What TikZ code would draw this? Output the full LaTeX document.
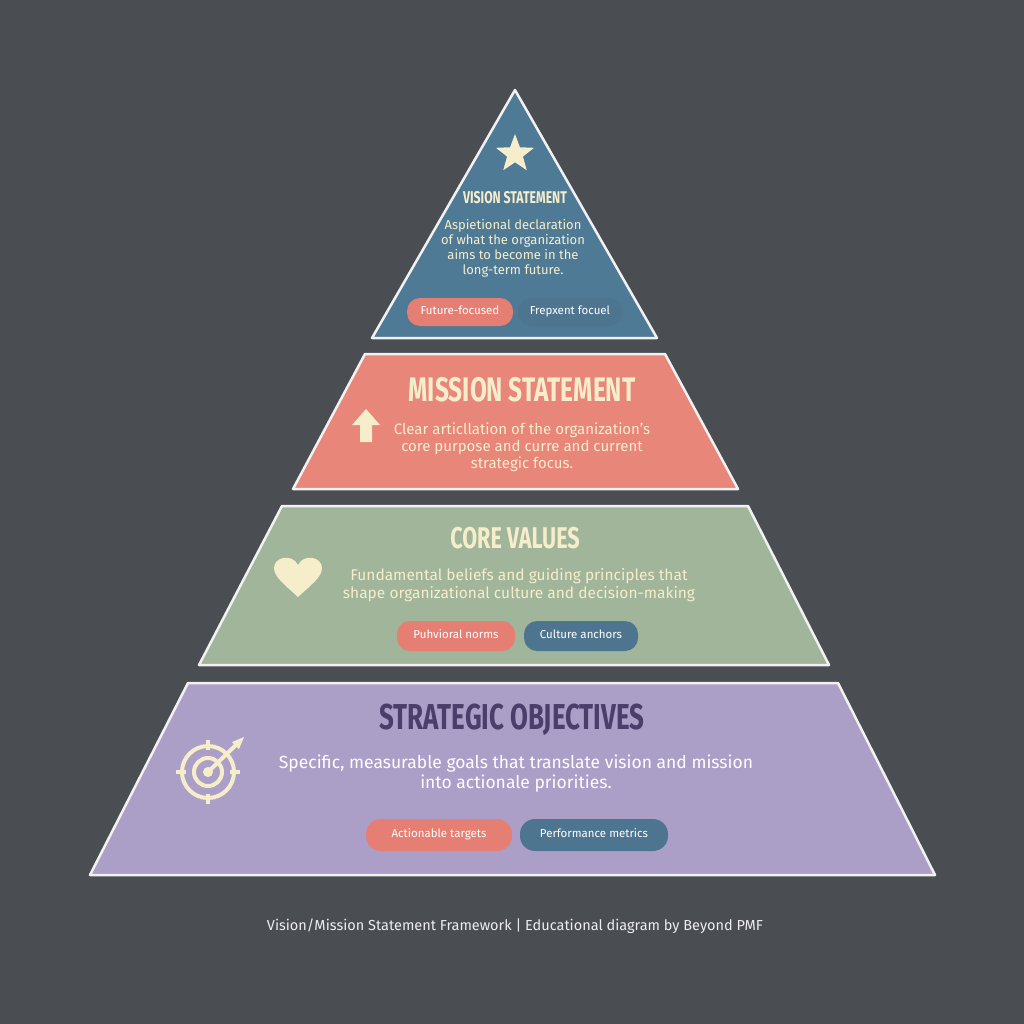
\documentclass[tikz,border=0pt]{standalone}
\usepackage{fontspec}
\setmainfont{Fira Sans}
\usetikzlibrary{shapes.geometric}
\definecolor{bg}{HTML}{4A4D52}
\definecolor{tblue}{HTML}{4F7A96}
\definecolor{tsal}{HTML}{E8867A}
\definecolor{tgreen}{HTML}{A0B59A}
\definecolor{tlav}{HTML}{AC9FC7}
\definecolor{cream}{HTML}{F6EDCB}
\definecolor{dpur}{HTML}{4A3F6B}
\definecolor{pillblue}{HTML}{4D7590}
\definecolor{pillsal}{HTML}{E57F74}
\begin{document}
\begin{tikzpicture}[x=1pt,y=-1pt,
  tier/.style={draw=white!92!bg,line width=2.5pt,line join=round},
  ttl/.style={font=\bfseries,xscale=0.72,text=cream},
  body/.style={align=center,text=cream,font=\fontsize{13}{15}\selectfont},
  pill/.style={rounded corners=13pt,minimum height=28pt,text=white,font=\fontsize{11.5}{13}\selectfont,inner sep=0pt,text height=8pt,text depth=2.5pt}]
\fill[bg] (0,0) rectangle (1024,1024);
\useasboundingbox (0,0) rectangle (1024,1024);
% tiers
\draw[tier,fill=tblue] (515,90) -- (657,338) -- (372,338) -- cycle;
\draw[tier,fill=tsal] (365,354) -- (665,354) -- (738,489) -- (293,489) -- cycle;
\draw[tier,fill=tgreen] (282,506) -- (748,506) -- (829,665) -- (199,665) -- cycle;
\draw[tier,fill=tlav] (188,683) -- (838,683) -- (935,875) -- (90,875) -- cycle;
% tier 1
\node[star,star points=5,star point ratio=2.4,fill=cream,minimum size=40pt,inner sep=0pt] (star) at (515,154) {};
\node[ttl,font=\fontsize{17}{19}\bfseries\selectfont] (t1) at (515,198) {VISION STATEMENT};
\node[body] (b1) at (513,248) {Aspietional declaration\\of what the organization\\aims to become in the\\long-term future.};
\node[pill,fill=pillsal,minimum width=106pt] (p1) at (460,312) {Future-focused};
\node[pill,fill=pillblue,minimum width=104pt] (p2) at (570,312) {Frepxent focuel};
% tier 2
\node[ttl,font=\fontsize{34}{36}\bfseries\selectfont] (t2) at (522,390) {MISSION STATEMENT};
\draw[fill=cream,draw=none] (366,409) -- (380,425) -- (372,425) -- (372,442) -- (360,442) -- (360,425) -- (352,425) -- cycle;
\node[body,font=\fontsize{15}{17}\selectfont] (b2) at (522,447) {Clear articllation of the organization's\\core purpose and curre and current\\strategic focus.};
% tier 3
\node[ttl,font=\fontsize{30}{32}\bfseries\selectfont] (t3) at (515,538) {CORE VALUES};
\fill[cream] (298,597) .. controls (285,585) and (274,577) .. (274,568) .. controls (274,557) and (292,553) .. (298,565) .. controls (304,553) and (322,557) .. (322,568) .. controls (322,577) and (311,585) .. (298,597) -- cycle;
\node[body,font=\fontsize{15.5}{17.5}\selectfont] (b3) at (519,585) {Fundamental beliefs and guiding principles that\\shape organizational culture and decision-making};
\node[pill,fill=pillsal,minimum width=118pt,minimum height=30pt] (p3) at (456,636) {Puhvioral norms};
\node[pill,fill=pillblue,minimum width=114pt,minimum height=30pt] (p4) at (581,636) {Culture anchors};
% tier 4
\node[ttl,text=dpur,font=\fontsize{36}{38}\bfseries\selectfont] (t4) at (512,720) {STRATEGIC OBJECTIVES};
\begin{scope}[cream,line width=4pt]
\draw (208,772) circle (26);
\draw (208,772) circle (14);
\fill (208,772) circle (5);
\draw (176,772) -- (186,772) (230,772) -- (240,772) (208,740) -- (208,750) (208,794) -- (208,804);
\draw (210,770) -- (238,743);
\fill (232,742) -- (244,737) -- (239,749) -- cycle;
\end{scope}
\node[body,text=white,font=\fontsize{17.5}{20}\selectfont] (b4) at (516,774) {Specific, measurable goals that translate vision and mission\\into actionale priorities.};
\node[pill,fill=pillsal,minimum width=146pt,minimum height=32pt,rounded corners=15pt] (p5) at (439,835) {Actionable targets};
\node[pill,fill=pillblue,minimum width=148pt,minimum height=32pt,rounded corners=15pt] (p6) at (594,835) {Performance metrics};
% caption
\node[text=white!90!bg,font=\fontsize{14.5}{16}\selectfont] (cap) at (515,926) {Vision/Mission Statement Framework \textbar{} Educational diagram by Beyond PMF};
\end{tikzpicture}
\end{document}
